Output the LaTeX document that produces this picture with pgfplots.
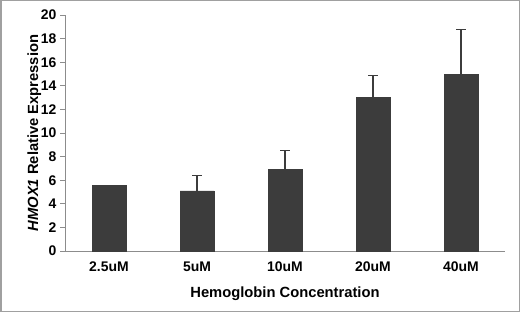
\documentclass[border=0pt]{standalone}
\usepackage{pgfplots}
\pgfplotsset{compat=1.18}
\usepackage{fontspec}
\setmainfont{Liberation Sans}
\definecolor{barc}{HTML}{3C3C3C}
\definecolor{axc}{HTML}{8C8C8C}
\definecolor{bordc}{HTML}{A0A0A0}
\begin{document}
\begin{tikzpicture}[x=1bp,y=1bp]
\draw[bordc,line width=1.5bp] (0.75,0.75) rectangle (519.25,311.25);
\begin{axis}[
  at={(65bp,61bp)}, anchor=south west,
  scale only axis, width=440bp, height=236bp,
  xmin=0, xmax=5, ymin=0, ymax=20,
  ytick={0,2,...,20},
  xtick={0.5,1.5,2.5,3.5,4.5},
  xticklabels={2.5uM,5uM,10uM,20uM,40uM},
  major x tick style={draw=none},
  extra x ticks={0,1,2,3,4,5},
  extra x tick labels={},
  extra x tick style={major tick length=5bp, tick align=outside, tick style={axc, line width=0.8bp}},
  axis x line*=bottom, axis y line*=left,
  axis line style={axc, line width=0.8bp, -},
  y tick style={axc, line width=0.8bp},
  tick align=outside, major tick length=5bp,
  ticklabel style={font=\fontsize{14}{16}\selectfont\bfseries, text=black},
  xticklabel style={yshift=-2bp},
  /pgf/number format/assume math mode=true,
  xlabel={Hemoglobin Concentration},
  ylabel={\textit{HMOX1} Relative Expression},
  label style={font=\fontsize{14.8}{17}\selectfont\bfseries},
  xlabel style={yshift=1bp},
  ylabel style={yshift=-7bp},
]
\addplot[ybar, bar width=34bp, bar shift=0pt, fill=barc, draw=barc]
 coordinates {(0.5,5.6)};
\addplot[ybar, bar width=34bp, bar shift=0pt, fill=barc, draw=barc,
  error bars/.cd, y dir=plus, y explicit,
  error bar style={color=barc, line width=1.3bp},
  error mark options={rotate=90, mark size=5bp, line width=1.3bp, color=barc}]
 coordinates {
  (1.5,5.1) +- (0,1.3)
  (2.5,6.9) +- (0,1.6)
  (3.5,13.0) +- (0,1.9)
  (4.5,14.95) +- (0,3.85)
 };
\end{axis}
\end{tikzpicture}
\end{document}
